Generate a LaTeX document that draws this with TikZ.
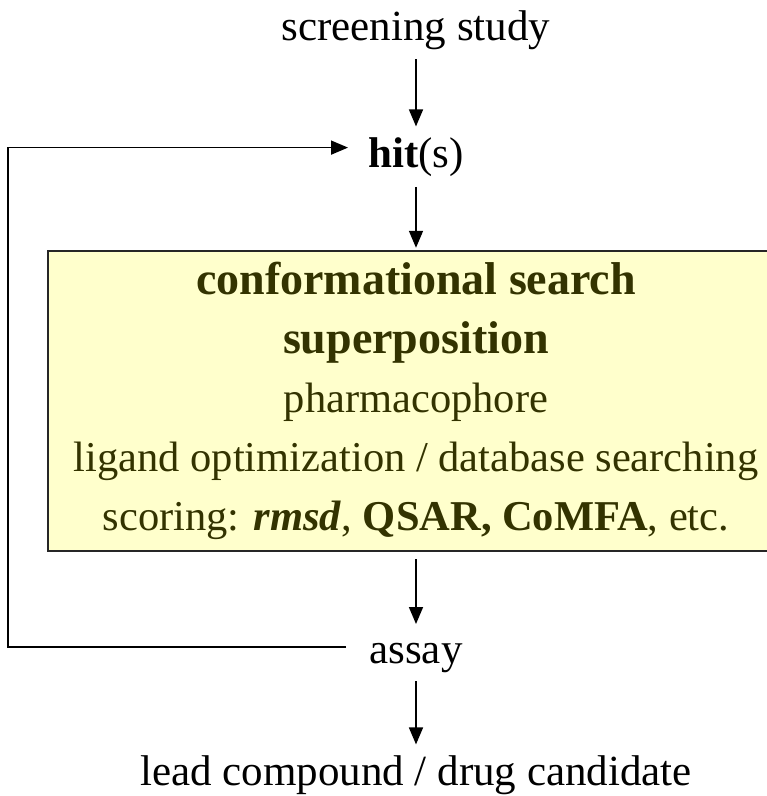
\documentclass[tikz,border=0pt]{standalone}
\usepackage{fontspec}
\setmainfont{Liberation Serif}
\usetikzlibrary{arrows.meta,positioning}
\definecolor{qsBox}{HTML}{FFFFCC}
\definecolor{qsInk}{HTML}{333300}
\definecolor{qsLine}{HTML}{000000}
\tikzset{
  stage/.style={
    inner sep=0pt, text height=29pt, text depth=9pt,
    font=\fontsize{43}{48}\selectfont
  },
  methods/.style={
    draw=qsLine!85, line width=2.2pt, fill=qsBox, text=qsInk,
    minimum width=736pt, minimum height=300pt, inner sep=0pt,
    align=center, font=\fontsize{42.5}{59}\selectfont
  },
  flow/.style={-{Triangle[length=17pt,width=14pt]}, line width=1.6pt,
    shorten <=10pt, shorten >=12pt},
  feedback/.style={-{Triangle[length=17pt,width=14pt]}, line width=1.6pt}
}
\newcommand{\boldline}[1]{{\fontsize{46}{59}\selectfont\bfseries #1}}
\begin{document}
\begin{tikzpicture}
  \useasboundingbox (0,0) rectangle (767pt,-796pt);
  \node[stage, anchor=north] (study) at (416pt,-11pt) {screening study};
  \node[stage, below=89pt of study] (hit) {\textbf{hit}(s)};
  \node[methods, below=73pt of hit] (box) {%
    \boldline{conformational search}\\
    \boldline{superposition}\\
    pharmacophore\\
    ligand optimization / database searching\\
    scoring: \textbf{\textit{rmsd}}, \textbf{QSAR, CoMFA}, etc.};
  \node[stage, below=82pt of box] (assay) {assay};
  \node[stage, below=84pt of assay] (lead) {lead compound / drug candidate};
  \coordinate (back) at (8pt,-400pt);
  \draw[flow] (study) -- (hit);
  \draw[flow, shorten >=2pt] (hit) -- (box);
  \draw[flow, shorten <=7pt, shorten >=10pt] (box) -- (assay);
  \draw[flow, shorten <=9pt] (assay) -- (lead);
  \draw[feedback] ([xshift=-23pt,yshift=6pt]assay.west) -| (back)
    |- ([xshift=-20pt,yshift=10pt]hit.west);
\end{tikzpicture}
\end{document}
